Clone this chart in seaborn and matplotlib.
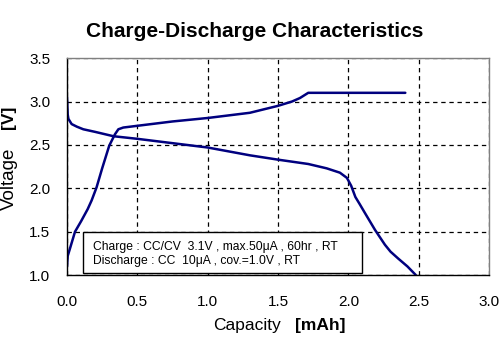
import matplotlib
matplotlib.use("Agg")
import matplotlib.pyplot as plt
from matplotlib.patches import Rectangle
import seaborn as sns
import pandas as pd

# Charge curve (CC/CV 3.1V)
charge_cap = [0.0, 0.005, 0.02, 0.057, 0.10, 0.147, 0.175, 0.21, 0.25, 0.30, 0.34, 0.365,
              0.40, 0.50, 0.75, 1.00, 1.30, 1.50, 1.60, 1.656, 1.715, 2.00, 2.405]
charge_v = [1.10, 1.22, 1.30, 1.50, 1.62, 1.76, 1.86, 2.01, 2.23, 2.49, 2.62, 2.68,
            2.70, 2.72, 2.77, 2.81, 2.87, 2.95, 3.00, 3.04, 3.10, 3.10, 3.10]

# Discharge curve (CC 10uA, cut-off 1.0V)
discharge_cap = [0.0, 0.005, 0.01, 0.033, 0.07, 0.116, 0.20, 0.33, 0.50, 0.75, 1.00, 1.30,
                 1.50, 1.715, 1.846, 1.94, 1.99, 2.02, 2.05, 2.08, 2.12, 2.19, 2.26,
                 2.30, 2.355, 2.42, 2.48]
discharge_v = [3.05, 2.85, 2.80, 2.74, 2.71, 2.68, 2.65, 2.60, 2.57, 2.52, 2.47, 2.38,
               2.33, 2.28, 2.23, 2.18, 2.12, 2.03, 1.90, 1.82, 1.71, 1.52, 1.35,
               1.27, 1.19, 1.10, 1.00]

x_ticks = [0.0, 0.5, 1.0, 1.5, 2.0, 2.5, 3.0]
y_ticks = [1.0, 1.5, 2.0, 2.5, 3.0, 3.5]

title = "Charge-Discharge Characteristics"
note_lines = ["Charge : CC/CV  3.1V , max.50\u03bcA , 60hr , RT",
              "Discharge : CC  10\u03bcA , cov.=1.0V , RT"]

sns.set_theme(style="white")
plt.rcParams["font.family"] = ["Liberation Sans", "DejaVu Sans"]
plt.rcParams["text.color"] = "black"

charge = pd.DataFrame({"cap": charge_cap, "v": charge_v})
discharge = pd.DataFrame({"cap": discharge_cap, "v": discharge_v})

fig = plt.figure(figsize=(5, 3.5), dpi=100)
ax = fig.add_axes([0.134, 0.214, 0.844, 0.620])

line_color = "#00007f"
sns.lineplot(data=charge, x="cap", y="v", ax=ax, color=line_color, lw=1.8,
             sort=False, estimator=None)
sns.lineplot(data=discharge, x="cap", y="v", ax=ax, color=line_color, lw=1.8,
             sort=False, estimator=None)

ax.set_xlim(0, 3.0)
ax.set_ylim(1.0, 3.5)
ax.set_xticks(x_ticks)
ax.set_yticks(y_ticks)
ax.set_xticklabels([f"{t:.1f}" for t in x_ticks])
ax.set_yticklabels([f"{t:.1f}" for t in y_ticks])
ax.tick_params(axis="both", labelsize=11, colors="black", length=0)
ax.tick_params(axis="x", pad=14)
ax.tick_params(axis="y", pad=12)
ax.grid(True, color="black", linestyle=(0, (3.5, 3)), linewidth=0.9)
ax.set_axisbelow(True)
ax.set_xlabel("")
ax.set_ylabel("")

for side in ("left", "bottom"):
    ax.spines[side].set_color("black")
    ax.spines[side].set_linewidth(1.0)
for side in ("top", "right"):
    ax.spines[side].set_color("#808080")
    ax.spines[side].set_linewidth(1.0)

# Test conditions box
ax.add_patch(Rectangle((0.038, 0.009), 0.661, 0.189, transform=ax.transAxes,
                       fc="white", ec="black", lw=1.0, zorder=5))
ax.text(0.0616, 0.128, note_lines[0], transform=ax.transAxes, fontsize=8.7,
        va="center", ha="left", zorder=6)
ax.text(0.0616, 0.063, note_lines[1], transform=ax.transAxes, fontsize=8.7,
        va="center", ha="left", zorder=6)

fig.text(0.509, 0.911, title, ha="center", va="center", fontsize=15,
         fontweight="bold")

fig.text(0.562, 0.071, "Capacity", ha="right", va="center", fontsize=12.5)
fig.text(0.590, 0.071, "[mAh]", ha="left", va="center", fontsize=12.5,
         fontweight="bold")
fig.text(0.019, 0.489, "Voltage", ha="center", va="center", fontsize=13.5,
         rotation=90)
fig.text(0.017, 0.664, "[V]", ha="center", va="center", fontsize=12.5,
         rotation=90, fontweight="bold")

fig.savefig("out.png", dpi=100)
